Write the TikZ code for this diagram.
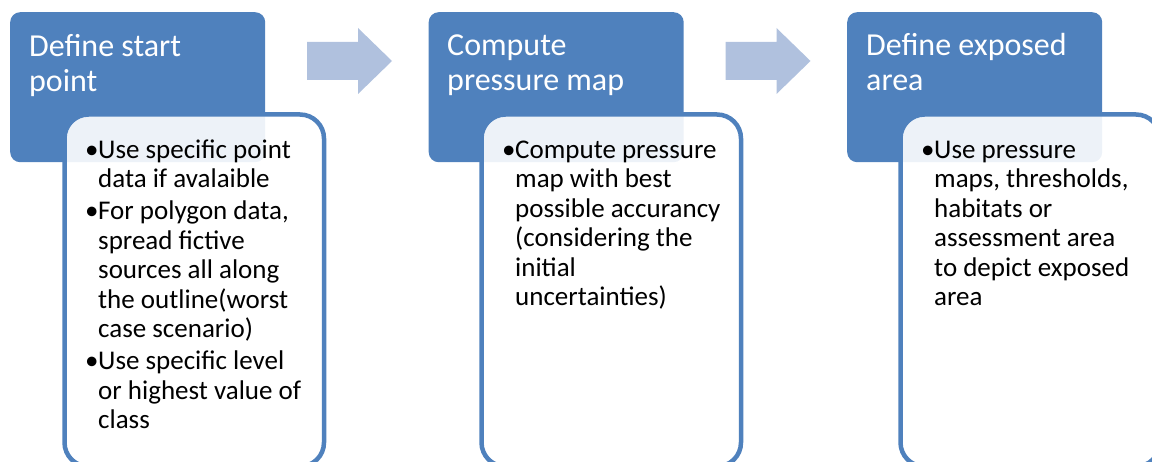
\documentclass[tikz,border=0pt]{standalone}
\usepackage{fontspec}
\setmainfont{Carlito}
\definecolor{hdr}{RGB}{79,129,189}
\definecolor{arr}{RGB}{176,193,222}
\tikzset{
  hdrbox/.style={fill=hdr, rounded corners=10pt, minimum width=255pt, minimum height=150pt, anchor=north west, inner sep=0pt},
  panel/.style={draw=hdr, line width=4.5pt, fill=white, fill opacity=0.9, text opacity=1, rounded corners=24pt, minimum width=259.5pt, minimum height=352pt, anchor=north west, inner sep=0pt},
  hdrtext/.style={anchor=base west, inner sep=0pt, text=white, font=\fontsize{32}{35}\selectfont},
  bodytext/.style={anchor=base west, inner sep=0pt, text=black, font=\fontsize{27}{29.5}\selectfont},
  blockarrow/.style={fill=arr}
}
\newcommand{\bul}{\makebox[13pt][l]{\textbullet}}
\begin{document}
\begin{tikzpicture}[x=1pt,y=-1pt]
\useasboundingbox (0,0) rectangle (1152,462);
\clip (0,0) rectangle (1152,462);

% step 1
\node[hdrbox] (b1) at (10,12) {};
\node[panel] (p1) at (62.25,112.25) {};
\node[hdrtext] (h1) at (29,57) {\begin{tabular}[t]{@{}l@{}}Define start\\point\end{tabular}};
\node[bodytext] (t1) at (85,158.5) {\begin{tabular}[t]{@{}l@{}l@{}}
\bul & Use specific point\\
 & data if avalaible\\[2.5pt]
\bul & For polygon data,\\
 & spread fictive\\
 & sources all along\\
 & the outline(worst\\
 & case scenario)\\[2.5pt]
\bul & Use specific level\\
 & or highest value of\\
 & class
\end{tabular}};

% step 2
\node[hdrbox] (b2) at (428.5,12) {};
\node[panel] (p2) at (479.25,112.25) {};
\node[hdrtext] (h2) at (447,56) {\begin{tabular}[t]{@{}l@{}}Compute\\pressure map\end{tabular}};
\node[bodytext] (t2) at (502,158.5) {\begin{tabular}[t]{@{}l@{}l@{}}
\bul & Compute pressure\\
 & map with best\\
 & possible accurancy\\
 & (considering the\\
 & initial\\
 & uncertainties)
\end{tabular}};

% step 3
\node[hdrbox] (b3) at (847,12) {};
\node[panel] (p3) at (898.25,112.25) {};
\node[hdrtext] (h3) at (866,56) {\begin{tabular}[t]{@{}l@{}}Define exposed\\area\end{tabular}};
\node[bodytext] (t3) at (921,158.5) {\begin{tabular}[t]{@{}l@{}l@{}}
\bul & Use pressure\\
 & maps, thresholds,\\
 & habitats or\\
 & assessment area\\
 & to depict exposed\\
 & area
\end{tabular}};

% block arrows
\coordinate (a1) at (307,61);
\coordinate (a2) at (725.5,61);
\foreach \a in {a1,a2}{
  \fill[blockarrow] (\a) ++(0,-19) -- ++(51,0) -- ++(0,-14) -- ++(34,33) -- ++(-34,33) -- ++(0,-14) -- ++(-51,0) -- cycle;
}
\end{tikzpicture}
\end{document}
